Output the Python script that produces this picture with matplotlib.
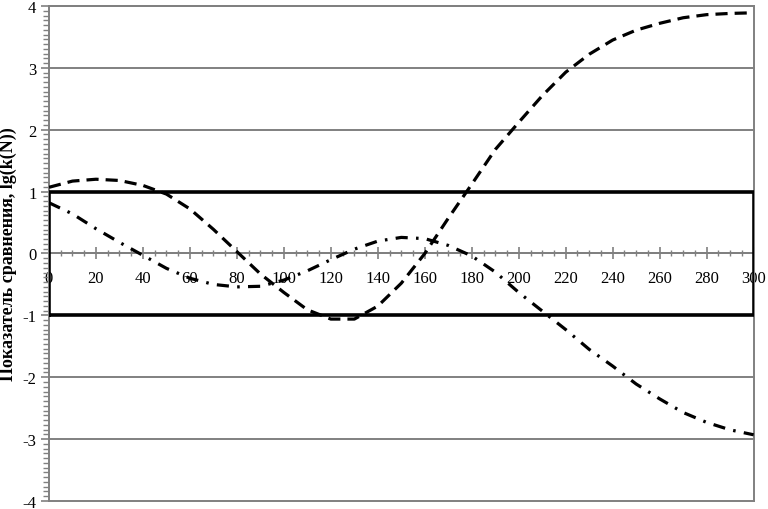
import matplotlib.pyplot as plt
from matplotlib.ticker import MultipleLocator

# значения по оси N
n = [0, 10, 20, 30, 40, 50, 60, 70, 80, 90, 100, 110, 120, 130, 140, 150,
     160, 170, 180, 190, 200, 210, 220, 230, 240, 250, 260, 270, 280, 290, 300]

# штриховая кривая
lg_dash = [1.07, 1.17, 1.20, 1.18, 1.10, 0.96, 0.72, 0.39, 0.03, -0.33,
           -0.63, -0.91, -1.06, -1.06, -0.85, -0.48, 0.00, 0.57, 1.12, 1.68,
           2.12, 2.55, 2.93, 3.22, 3.45, 3.61, 3.72, 3.81, 3.86, 3.88, 3.89]

# штрихпунктирная кривая
lg_dashdot = [0.82, 0.64, 0.40, 0.18, -0.03, -0.24, -0.40, -0.50, -0.54, -0.53,
              -0.43, -0.28, -0.10, 0.07, 0.20, 0.26, 0.24, 0.13, -0.04, -0.30,
              -0.63, -0.93, -1.23, -1.55, -1.82, -2.11, -2.35, -2.57, -2.73, -2.85, -2.93]

# область |lg k| <= 1
box_x = [0, 300, 300, 0, 0]
box_y = [-1, -1, 1, 1, -1]

plt.rcParams['font.family'] = ['Liberation Serif', 'DejaVu Serif']
grey = '#808080'

fig = plt.figure(figsize=(7.68, 5.10), dpi=100)
ax = fig.add_axes([0.0638, 0.0157, 0.9175, 0.9706])

for yv in range(-4, 5):
    ax.axhline(yv, color=grey, lw=1.4, zorder=1, clip_on=False)

ax.plot(box_x, box_y, color='black', lw=2.6, zorder=3, solid_joinstyle='miter')
ax.plot(n, lg_dash, color='black', lw=2.3, dashes=[3.8, 2.2], zorder=4)
ax.plot(n, lg_dashdot, color='black', lw=2.3, dashes=[3.8, 2.6, 0.8, 2.6], zorder=4)

ax.set_xlim(0, 300)
ax.set_ylim(-4, 4)

ax.spines['bottom'].set_position(('data', 0))
for s in ['bottom', 'left', 'right', 'top']:
    ax.spines[s].set_color(grey)
    ax.spines[s].set_linewidth(1.4)
ax.spines['bottom'].set_zorder(2)

ax.xaxis.set_major_locator(MultipleLocator(20))
ax.xaxis.set_minor_locator(MultipleLocator(5))
ax.yaxis.set_major_locator(MultipleLocator(1))
ax.yaxis.set_minor_locator(MultipleLocator(1 / 13))
ax.tick_params(axis='x', which='major', direction='inout', length=8, width=1.2,
               color=grey, labelsize=12, pad=8)
ax.tick_params(axis='x', which='minor', direction='inout', length=5, width=1.0, color=grey)
ax.tick_params(axis='y', which='major', direction='out', length=6, width=1.2,
               color=grey, labelsize=12, pad=3)
ax.tick_params(axis='y', which='minor', direction='out', length=4, width=1.0, color=grey)
ax.set_yticks(range(-4, 5))
ax.set_yticklabels([str(v) for v in range(-4, 5)])

ax.set_ylabel('Показатель сравнения, lg(k(N))', fontsize=13, fontweight='bold', labelpad=4)

plt.savefig('out.png', dpi=100)
